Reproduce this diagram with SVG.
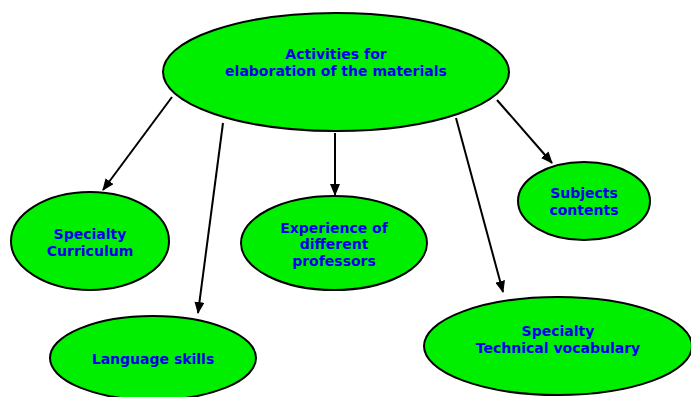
<svg xmlns="http://www.w3.org/2000/svg" width="691" height="397" viewBox="0 0 691 397">
<style>
.n ellipse{fill:#00ee00;stroke:#000;stroke-width:2}
.n text{font-family:"DejaVu Sans",Verdana,sans-serif;font-weight:bold;font-size:14px;fill:#0000ee;text-anchor:middle}
#edges line{stroke:#000;stroke-width:2;marker-end:url(#ah)}
</style>
<defs>
<marker id="ah" markerUnits="userSpaceOnUse" markerWidth="12" markerHeight="10" refX="11" refY="5" orient="auto">
<path d="M0,0 L12,5 L0,10 z" fill="#000"/>
</marker>
</defs>
<rect width="691" height="397" fill="#fff"/>
<g id="edges">
<line x1="172" y1="97" x2="103" y2="190"/>
<line x1="223" y1="123" x2="198" y2="313"/>
<line x1="335" y1="133" x2="335" y2="195"/>
<line x1="456" y1="118" x2="503" y2="292"/>
<line x1="497" y1="100" x2="552" y2="163"/>
</g>
<g id="main" class="n">
<ellipse cx="336" cy="72" rx="173" ry="59"/>
<text x="336" y="59">Activities for</text>
<text x="336" y="76">elaboration of the materials</text>
</g>
<g id="curriculum" class="n">
<ellipse cx="90" cy="241" rx="79" ry="49"/>
<text x="90" y="239">Specialty</text>
<text x="90" y="256">Curriculum</text>
</g>
<g id="language" class="n">
<ellipse cx="153" cy="358" rx="103" ry="42"/>
<text x="153" y="364">Language skills</text>
</g>
<g id="experience" class="n">
<ellipse cx="334" cy="243" rx="93" ry="47"/>
<text x="334" y="233">Experience of</text>
<text x="334" y="249">different</text>
<text x="334" y="266">professors</text>
</g>
<g id="subjects" class="n">
<ellipse cx="584" cy="201" rx="66" ry="39"/>
<text x="584" y="198">Subjects</text>
<text x="584" y="215">contents</text>
</g>
<g id="vocabulary" class="n">
<ellipse cx="558" cy="346" rx="134" ry="49"/>
<text x="558" y="336">Specialty</text>
<text x="558" y="353">Technical vocabulary</text>
</g>
</svg>
